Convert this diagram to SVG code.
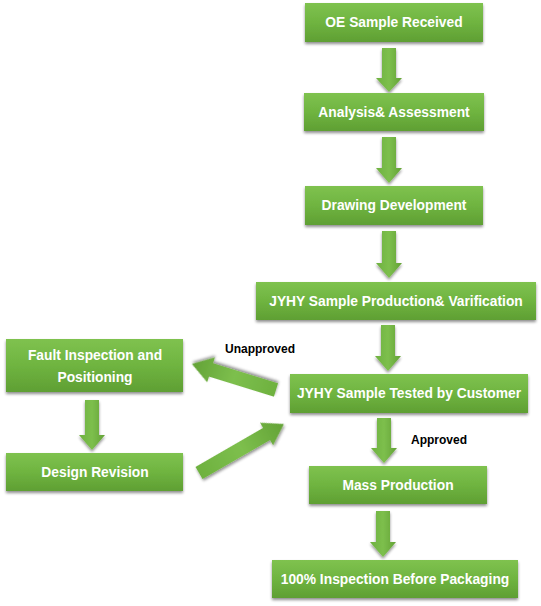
<svg xmlns="http://www.w3.org/2000/svg" width="541" height="606" viewBox="0 0 541 606">
<defs>
<linearGradient id="g" x1="0" y1="0" x2="0" y2="1">
<stop offset="0" stop-color="#7fc24f"/>
<stop offset="0.5" stop-color="#6fb440"/>
<stop offset="1" stop-color="#5f9f33"/>
</linearGradient>
<linearGradient id="ga" x1="0" y1="0" x2="1" y2="0">
<stop offset="0" stop-color="#6eb13f"/>
<stop offset="0.5" stop-color="#7dbf4d"/>
<stop offset="1" stop-color="#63a236"/>
</linearGradient>
<filter id="sh" x="-10%" y="-20%" width="120%" height="150%">
<feGaussianBlur in="SourceAlpha" stdDeviation="1.5"/>
<feOffset dx="0" dy="2" result="b"/>
<feComponentTransfer><feFuncA type="linear" slope="0.45"/></feComponentTransfer>
<feMerge><feMergeNode/><feMergeNode in="SourceGraphic"/></feMerge>
</filter>
</defs>
<style>
.box{fill:url(#g);filter:url(#sh);}
.t{font-family:"Liberation Sans",Arial,sans-serif;font-weight:bold;font-size:13.8px;fill:#ffffff;text-anchor:middle;}
.lbl{font-family:"Liberation Sans",Arial,sans-serif;font-weight:bold;font-size:12px;fill:#000000;}
.arr{fill:url(#ga);filter:url(#sh);}
</style>
<rect width="541" height="606" fill="#ffffff"/>
<g id="connectors">
<polygon class="arr" points="382,48 396,48 396,78 402,78 389,92 376,78 382,78"/>
<polygon class="arr" points="382,137 396,137 396,168 402,168 389,183 376,168 382,168"/>
<polygon class="arr" points="382,231 396,231 396,263 402,263 389,278 376,263 382,263"/>
<polygon class="arr" points="381,325 395,325 395,356 401,356 388,371 375,356 381,356"/>
<polygon class="arr" points="377,418 391,418 391,448 397,448 384,463 371,448 377,448"/>
<polygon class="arr" points="376,511 390,511 390,542 396,542 383,557 370,542 376,542"/>
<polygon class="arr" points="85,400 99,400 99,435 105,435 92,450 79,435 85,435"/>
<polygon class="arr" transform="translate(276,390) rotate(197.2)" points="0,-7 68,-7 68,-13 88,0 68,13 68,7 0,7"/>
<polygon class="arr" transform="translate(199,473) rotate(-30)" points="0,-7 78,-7 78,-13 98,0 78,13 78,7 0,7"/>
</g>
<g id="n1"><rect class="box" x="305" y="3" width="178" height="39"/><text class="t" x="394" y="27">OE Sample Received</text></g>
<g id="n2"><rect class="box" x="304" y="93" width="180" height="38"/><text class="t" x="394" y="117">Analysis&amp; Assessment</text></g>
<g id="n3"><rect class="box" x="305" y="186" width="178" height="39"/><text class="t" x="394" y="210">Drawing Development</text></g>
<g id="n4"><rect class="box" x="256" y="282" width="280" height="38"/><text class="t" x="396" y="306">JYHY Sample Production&amp; Varification</text></g>
<g id="n5"><rect class="box" x="290" y="374" width="238" height="39"/><text class="t" x="409" y="398">JYHY Sample Tested by Customer</text></g>
<g id="n6"><rect class="box" x="6" y="339" width="177" height="53"/><text class="t" x="95" y="360">Fault Inspection and</text><text class="t" x="95" y="382">Positioning</text></g>
<g id="n7"><rect class="box" x="6" y="453" width="177" height="38"/><text class="t" x="95" y="477">Design Revision</text></g>
<g id="n8"><rect class="box" x="309" y="466" width="178" height="38"/><text class="t" x="398" y="490">Mass Production</text></g>
<g id="n9"><rect class="box" x="272" y="560" width="246" height="38"/><text class="t" x="395" y="584">100% Inspection Before Packaging</text></g>
<g id="labels">
<text class="lbl" x="225" y="353">Unapproved</text>
<text class="lbl" x="411" y="444">Approved</text>
</g>
</svg>
